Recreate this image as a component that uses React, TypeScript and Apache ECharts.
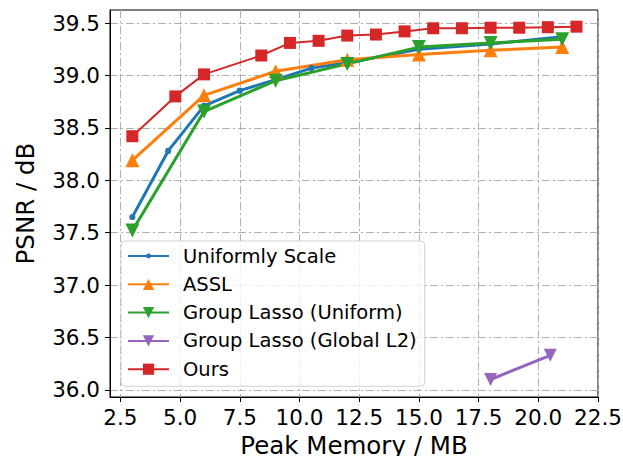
import React, { useEffect, useRef } from "react";
import * as echarts from "echarts";

const xTicks = [2.5, 5.0, 7.5, 10.0, 12.5, 15.0, 17.5, 20.0, 22.5];
const yTicks = [36.0, 36.5, 37.0, 37.5, 38.0, 38.5, 39.0, 39.5];

const uniformX = [3.0, 4.5, 6.0, 7.5, 9.0, 10.5, 12.0, 15.0, 18.0, 21.0];
const uniformY = [37.65, 38.28, 38.71, 38.855, 38.96, 39.07, 39.12, 39.25, 39.3, 39.37];

const asslX = [3.0, 6.0, 9.0, 12.0, 15.0, 18.0, 21.0];
const asslY = [38.19, 38.81, 39.04, 39.15, 39.2, 39.24, 39.27];

const glUniformX = [3.0, 6.0, 9.0, 12.0, 15.0, 18.0, 21.0];
const glUniformY = [37.52, 38.655, 38.95, 39.11, 39.27, 39.31, 39.345];

const glGlobalX = [18.0, 20.5];
const glGlobalY = [36.1, 36.33];

const oursX = [3.0, 4.8, 6.0, 8.4, 9.6, 10.8, 12.0, 13.2, 14.4, 15.6, 16.8, 18.0, 19.2, 20.4, 21.6];
const oursY = [38.42, 38.8, 39.01, 39.19, 39.31, 39.33, 39.38, 39.39, 39.42, 39.45, 39.45, 39.455, 39.455, 39.46, 39.465];

const zip = (xs: number[], ys: number[]) => xs.map((x, i) => [x, ys[i]]);

const FONT = "DejaVu Sans";
// small dot inside a 10x10 box (box corners are zero-length segments) so the legend dot stays small
const DOT = "path://M0,0 L0.01,0 M10,10 L9.99,10 M2.8,5 A2.2,2.2 0 1,0 7.2,5 A2.2,2.2 0 1,0 2.8,5 Z";
const TRI_DOWN = "path://M0,0 L10,0 L5,10 Z";

export default function App() {
  const ref = useRef<HTMLDivElement>(null);
  useEffect(() => {
    if (!ref.current) return;
    const chart = echarts.init(ref.current, undefined, { renderer: "svg" });
    const gridLine = { show: true, lineStyle: { color: "#b0b0b0", width: 1, type: [8, 3, 2, 3] as any } };
    const mk = (name: string, xs: number[], ys: number[], color: string, symbol: string, size: number, width: number) => ({
      name,
      type: "line",
      data: zip(xs, ys),
      symbol,
      symbolSize: size,
      showSymbol: true,
      lineStyle: { color, width },
      itemStyle: { color, borderWidth: 0 },
      z: 3,
    });
    chart.setOption({
      animation: false,
      backgroundColor: "#fff",
      grid: {
        left: 110,
        right: 25,
        top: 10,
        bottom: 59,
        containLabel: false,
        outerBoundsMode: "none",
        show: true,
        borderColor: "#000",
        borderWidth: 1,
        backgroundColor: "transparent",
      },
      xAxis: {
        type: "value",
        min: 2.064,
        max: 22.5,
        name: "Peak Memory / MB",
        nameLocation: "middle",
        nameGap: 36,
        nameTextStyle: { fontFamily: FONT, fontSize: 24.5, color: "#000" },
        axisLine: { show: true, onZero: false, lineStyle: { color: "#000", width: 1 } },
        axisTick: { show: true, inside: false, length: 5, customValues: xTicks, lineStyle: { color: "#000" } },
        axisLabel: {
          customValues: xTicks,
          formatter: (v: number) => v.toFixed(1),
          fontFamily: FONT,
          fontSize: 21.5,
          color: "#000",
          margin: 9,
        },
        splitLine: gridLine,
      },
      yAxis: {
        type: "value",
        min: 35.933,
        max: 39.624,
        name: "PSNR / dB",
        nameLocation: "middle",
        nameGap: 72,
        nameTextStyle: { fontFamily: FONT, fontSize: 24.5, color: "#000" },
        axisLine: { show: true, onZero: false, lineStyle: { color: "#000", width: 1 } },
        axisTick: { show: true, inside: false, length: 5, customValues: yTicks, lineStyle: { color: "#000" } },
        axisLabel: {
          customValues: yTicks,
          formatter: (v: number) => v.toFixed(1),
          fontFamily: FONT,
          fontSize: 21.5,
          color: "#000",
          margin: 10,
        },
        splitLine: gridLine,
      },
      legend: {
        orient: "vertical",
        left: 121,
        top: 241,
        padding: [5, 8, 7, 6],
        itemWidth: 41,
        itemHeight: 14,
        itemGap: 8.3,
        backgroundColor: "rgba(255,255,255,0.8)",
        borderColor: "#d0d0d0",
        borderWidth: 1,
        borderRadius: 4,
        textStyle: { fontFamily: FONT, fontSize: 19.5, color: "#000", lineHeight: 20, padding: [0, 0, 0, 9] },
        data: ["Uniformly Scale", "ASSL", "Group Lasso (Uniform)", "Group Lasso (Global L2)", "Ours"],
      },
      series: [
        mk("Uniformly Scale", uniformX, uniformY, "#1f77b4", DOT, 14, 3),
        mk("ASSL", asslX, asslY, "#ff7f0e", "triangle", 14, 3),
        mk("Group Lasso (Uniform)", glUniformX, glUniformY, "#2ca02c", TRI_DOWN, 14, 3),
        mk("Group Lasso (Global L2)", glGlobalX, glGlobalY, "#9467bd", TRI_DOWN, 13, 3),
        mk("Ours", oursX, oursY, "#d62728", "rect", 12, 2),
      ],
    });
    return () => chart.dispose();
  }, []);
  return <div ref={ref} style={{ position: "fixed", left: 0, top: 0, width: 623, height: 456 }} />;
}
